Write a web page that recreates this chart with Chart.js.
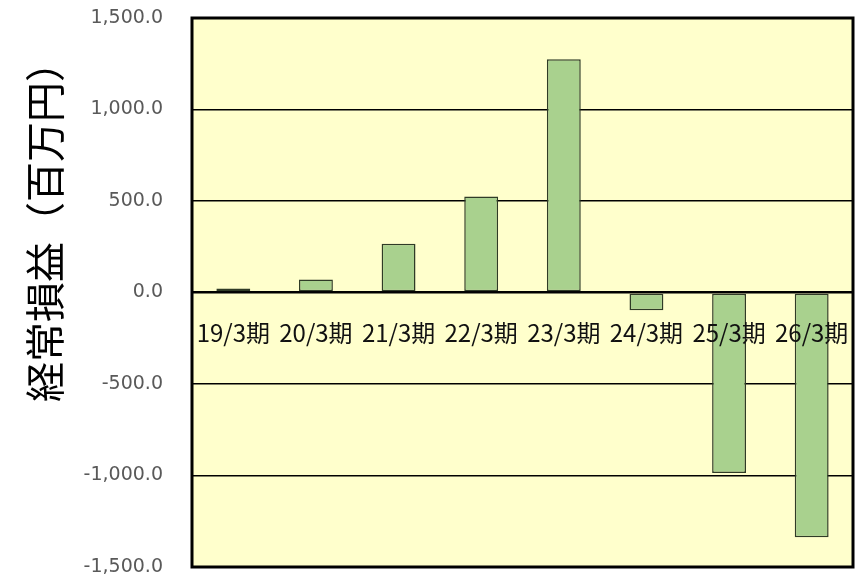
<!DOCTYPE html>
<html><head><meta charset="utf-8">
<script src="https://cdn.jsdelivr.net/npm/chart.js@4/dist/chart.umd.min.js"></script>
<style>html,body{margin:0;padding:0;background:#fff}</style>
</head><body>
<canvas id="c" width="860" height="577" style="display:block"></canvas>
<script>
const categories = ['19/3期', '20/3期', '21/3期', '22/3期', '23/3期', '24/3期', '25/3期', '26/3期'];
const values = [22, 71, 267, 525, 1275, -97, -987, -1338];
const yTicks = [-1500, -1000, -500, 0, 500, 1000, 1500];
const yTitle = '経常損益（百万円）';

const plotDeco = {
  id: 'plotDeco',
  beforeDraw(chart) {
    const {ctx, chartArea: a} = chart;
    ctx.save();
    ctx.fillStyle = '#FFFFCC';
    ctx.fillRect(a.left, a.top, a.right - a.left, a.bottom - a.top);
    ctx.restore();
  },
  afterDraw(chart) {
    const {ctx, chartArea: a} = chart;
    ctx.save();
    ctx.strokeStyle = '#000';
    ctx.lineWidth = 3;
    ctx.strokeRect(a.left, a.top, a.right - a.left, a.bottom - a.top);
    ctx.translate(45, 222);
    ctx.rotate(-Math.PI / 2);
    ctx.fillStyle = '#000';
    ctx.font = '40px "Noto Sans CJK JP"';
    ctx.textAlign = 'center';
    ctx.textBaseline = 'middle';
    ctx.fillText(yTitle, 0, 0);
    ctx.restore();
  }
};

const noPad = s => { s.paddingTop = 0; s.paddingBottom = 0; s.paddingLeft = 0; s.paddingRight = 0; };

new Chart(document.getElementById('c'), {
  type: 'bar',
  data: {
    labels: categories,
    datasets: [{
      data: values,
      backgroundColor: '#A9D18E',
      borderColor: '#2f3b26',
      borderWidth: 1.5,
      borderSkipped: false,
      categoryPercentage: 1,
      barPercentage: 0.41
    }]
  },
  options: {
    responsive: false,
    animation: false,
    layout: {padding: {left: 0, top: 18, right: 7, bottom: 10}},
    plugins: {legend: {display: false}, tooltip: {enabled: false}},
    scales: {
      x: {
        position: {y: 0},
        afterFit: noPad,
        grid: {display: false},
        border: {display: false},
        ticks: {
          z: 1,
          autoSkip: false, maxRotation: 0, padding: 18,
          color: '#111',
          font: {family: '"Noto Sans CJK JP"', size: 24}
        }
      },
      y: {
        min: -1500, max: 1500,
        afterFit: s => { s.width = 192; noPad(s); },
        afterBuildTicks: s => { s.ticks = yTicks.map(v => ({value: v})); },
        grid: {
          color: '#000',
          lineWidth: c => c.tick && c.tick.value === 0 ? 2.5 : 1.5,
          drawTicks: false
        },
        border: {display: false},
        ticks: {
          padding: 29,
          color: '#595959',
          font: {family: '"DejaVu Sans"', size: 19},
          callback: v => Number(v).toLocaleString('en-US', {minimumFractionDigits: 1, maximumFractionDigits: 1})
        }
      }
    }
  },
  plugins: [plotDeco]
});
</script>
</body></html>
